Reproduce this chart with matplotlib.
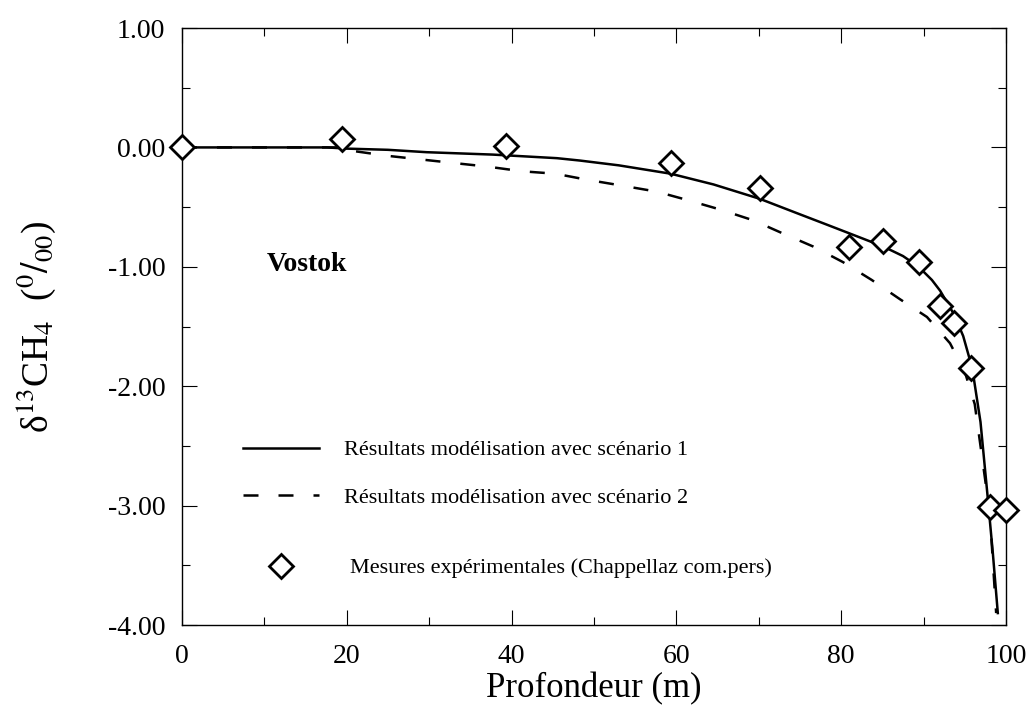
import numpy as np
import matplotlib
matplotlib.use('Agg')
import matplotlib.pyplot as plt
from matplotlib.lines import Line2D
from matplotlib.ticker import MultipleLocator, FormatStrFormatter

# Data
depth_meas = [0, 19.4, 39.3, 59.3, 70.1, 80.9, 85.1, 89.4, 92.0, 93.7, 95.8, 98.1, 100.0]
d13_meas = [0.0, 0.07, 0.01, -0.13, -0.34, -0.83, -0.78, -0.96, -1.33, -1.47, -1.85, -3.01, -3.04]

# Model, scenario 1 (solid)
depth_sc1 = [0, 10, 17.6, 20, 25, 29.7, 37.7, 45.5, 48.3, 53, 59.3, 64.5, 70.1, 74.6, 78,
             81, 85.1, 87.5, 89.4, 91, 92, 93.7, 94.8, 95.9, 96.9, 97.8, 98.4, 99.0]
d13_sc1 = [0, 0, 0, -0.01, -0.02, -0.04, -0.06, -0.09, -0.11, -0.15, -0.22, -0.31, -0.43, -0.55, -0.64,
           -0.72, -0.83, -0.91, -1.0, -1.11, -1.2, -1.40, -1.58, -1.85, -2.3, -2.95, -3.4, -3.9]

# Model, scenario 2 (dashed)
depth_sc2 = [0, 10, 20, 20.8, 24.9, 28.9, 32.9, 37.0, 41.3, 45.3, 49.1, 53.4, 57.6, 61.3, 65.3,
             69.3, 72.9, 76.6, 80.2, 83.7, 87.1, 90.4, 93.2, 95.0, 96.2, 96.9, 97.5, 98.2, 98.8]
d13_sc2 = [0, 0, 0, -0.03, -0.07, -0.10, -0.13, -0.16, -0.20, -0.22, -0.27, -0.32, -0.37, -0.44, -0.52,
           -0.61, -0.72, -0.83, -0.96, -1.11, -1.27, -1.42, -1.64, -1.88, -2.15, -2.5, -2.8, -3.25, -3.9]

labels = ['Résultats modélisation avec scénario 1',
          'Résultats modélisation avec scénario 2',
          'Mesures expérimentales (Chappellaz com.pers)']

plt.rcParams['font.family'] = ['Liberation Serif', 'DejaVu Serif']
plt.rcParams['mathtext.fontset'] = 'stix'
plt.rcParams['axes.unicode_minus'] = False

fig = plt.figure(figsize=(10.31, 7.06), dpi=100)
ax = fig.add_axes([0.1765, 0.1147, 0.7993, 0.8456])

lw = 1.8
ax.plot(depth_sc2, d13_sc2, color='black', lw=lw, dashes=(6, 8))
ax.plot(depth_sc1, d13_sc1, color='black', lw=lw)
ax.plot(depth_meas, d13_meas, linestyle='none', marker='D', markersize=12,
        markerfacecolor='white', markeredgecolor='black', markeredgewidth=2.0,
        clip_on=False, zorder=5)

ax.set_xlim(0, 100)
ax.set_ylim(-4, 1)

# ticks inward on every side
ax.xaxis.set_major_locator(MultipleLocator(20))
ax.xaxis.set_minor_locator(MultipleLocator(10))
ax.yaxis.set_major_locator(MultipleLocator(1))
ax.yaxis.set_minor_locator(MultipleLocator(0.5))
ax.yaxis.set_major_formatter(FormatStrFormatter('%.2f'))
ax.tick_params(which='both', direction='in', top=True, right=True, width=0.8)
ax.tick_params(which='major', length=10.5)
ax.tick_params(which='minor', length=5.5)
ax.tick_params(axis='x', which='major', labelsize=20, pad=14)
ax.tick_params(axis='y', which='major', labelsize=20, pad=12)
for sp in ax.spines.values():
    sp.set_linewidth(1.0)

ax.set_xlabel('Profondeur (m)', fontsize=25, labelpad=2)
ax.set_ylabel('δ' + r'$^{13}$CH$_4$  ($^{0}/_{00}$)', fontsize=27)
ax.yaxis.set_label_coords(-0.15, 0.5)

ax.text(10.3, -0.98, 'Vostok', fontsize=20, fontweight='bold', ha='left', va='center')

# legend, split in two to keep the uneven row spacing
h1 = Line2D([], [], color='black', lw=lw)
h2 = Line2D([], [], color='black', lw=lw, dashes=(6, 8))
h3 = Line2D([], [], linestyle='none', marker='D', markersize=12, markerfacecolor='white',
            markeredgecolor='black', markeredgewidth=2.0)
leg1 = ax.legend([h1, h2], labels[:2], loc='center left', bbox_to_anchor=(0.074, 0.253),
                 frameon=False, fontsize=16, handlelength=3.4, handletextpad=1.13,
                 labelspacing=1.23, borderpad=0, borderaxespad=0)
ax.add_artist(leg1)
ax.legend([h3], labels[2:], loc='center left', bbox_to_anchor=(0.074, 0.0955),
          frameon=False, fontsize=16, handlelength=3.4, handletextpad=1.4,
          borderpad=0, borderaxespad=0)

fig.savefig('out.png', dpi=100)
